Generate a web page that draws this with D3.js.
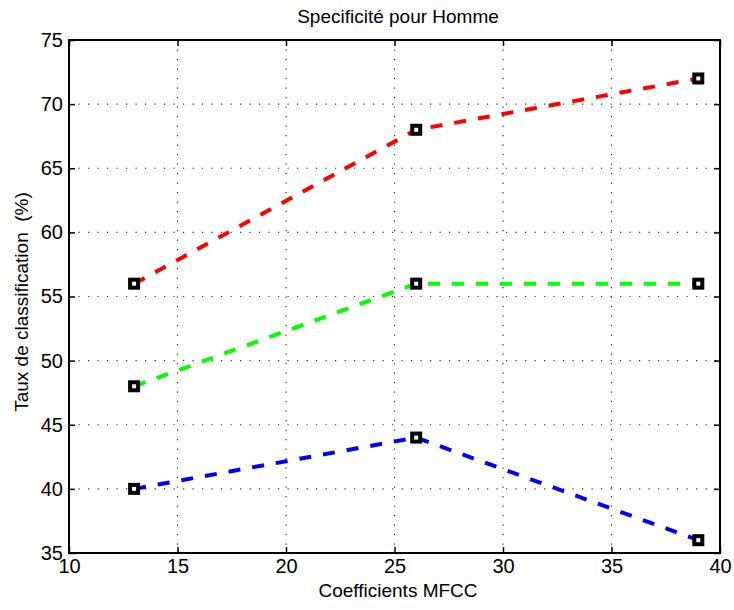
<!DOCTYPE html>
<html>
<head>
<meta charset="utf-8">
<script src="https://cdn.jsdelivr.net/npm/d3@7"></script>
<style>
  body { margin: 0; background: #fff; }
  svg { display: block; font-family: "Liberation Sans", Arial, Helvetica, sans-serif; }
  .axis path, .axis line { stroke: #000; }
  .axis text { font-size: 20px; fill: #000; }
</style>
</head>
<body>
<svg id="chart"></svg>
<script>
    'use strict';

    var coefficients = [13, 26, 39];
    var redSeries = [56, 68, 72];
    var greenSeries = [48, 56, 56];
    var blueSeries = [40, 44, 36];
    var xTicks = [10, 15, 20, 25, 30, 35, 40];
    var yTicks = [35, 40, 45, 50, 55, 60, 65, 70, 75];

    var width = 734, height = 610;
    var plotLeft = 69, plotRight = 720, plotTop = 40, plotBottom = 553;

    var svg = d3.select('#chart')
        .attr('width', width)
        .attr('height', height);

    var scaleX = d3.scaleLinear().domain([10, 40]).range([plotLeft, plotRight]);
    var scaleY = d3.scaleLinear().domain([35, 75]).range([plotBottom, plotTop]);

    // dotted grid
    var grid = svg.append('g').attr('class', 'grid');
    grid.selectAll('line.vx')
        .data(xTicks)
        .enter().append('line')
        .attr('class', 'vx')
        .attr('x1', function (d) { return scaleX(d); })
        .attr('x2', function (d) { return scaleX(d); })
        .attr('y1', plotTop)
        .attr('y2', plotBottom)
        .attr('stroke', '#333')
        .attr('stroke-width', 1.2)
        .attr('stroke-dasharray', '1.2,8.3');
    grid.selectAll('line.hy')
        .data(yTicks)
        .enter().append('line')
        .attr('class', 'hy')
        .attr('x1', plotLeft)
        .attr('x2', plotRight)
        .attr('y1', function (d) { return scaleY(d); })
        .attr('y2', function (d) { return scaleY(d); })
        .attr('stroke', '#333')
        .attr('stroke-width', 1.2)
        .attr('stroke-dasharray', '1.2,8.3');

    // axes, ticks inside like matlab
    svg.append('g')
        .attr('class', 'x axis')
        .attr('transform', 'translate(0,' + plotBottom + ')')
        .call(d3.axisBottom(scaleX).tickValues(xTicks).tickSizeInner(-6).tickSizeOuter(0).tickPadding(6));
    svg.append('g')
        .attr('class', 'x axis top')
        .attr('transform', 'translate(0,' + plotTop + ')')
        .call(d3.axisTop(scaleX).tickValues(xTicks).tickSizeInner(-6).tickSizeOuter(0).tickFormat(''));
    svg.append('g')
        .attr('class', 'y axis')
        .attr('transform', 'translate(' + plotLeft + ',0)')
        .call(d3.axisLeft(scaleY).tickValues(yTicks).tickSizeInner(-6).tickSizeOuter(0).tickPadding(6));
    svg.append('g')
        .attr('class', 'y axis right')
        .attr('transform', 'translate(' + plotRight + ',0)')
        .call(d3.axisRight(scaleY).tickValues(yTicks).tickSizeInner(-6).tickSizeOuter(0).tickFormat(''));

    svg.selectAll('.axis .domain').remove();
    svg.selectAll('.axis line').attr('stroke-width', 1.5);

    svg.append('rect')
        .attr('x', plotLeft)
        .attr('y', plotTop)
        .attr('width', plotRight - plotLeft)
        .attr('height', plotBottom - plotTop)
        .attr('fill', 'none')
        .attr('stroke', '#000')
        .attr('stroke-width', 2);

    var line = d3.line()
        .x(function (d, i) { return scaleX(coefficients[i]); })
        .y(function (d) { return scaleY(d); });

    function drawSeries(values, color) {
        var group = svg.append('g');
        group.append('path')
            .datum(values)
            .attr('d', line)
            .attr('fill', 'none')
            .attr('stroke', color)
            .attr('stroke-width', 4)
            .attr('stroke-dasharray', '12,12');
        group.selectAll('rect')
            .data(values)
            .enter().append('rect')
            .attr('x', function (d, i) { return scaleX(coefficients[i]) - 4; })
            .attr('y', function (d) { return scaleY(d) - 4; })
            .attr('width', 8)
            .attr('height', 8)
            .attr('fill', '#fff')
            .attr('stroke', '#000')
            .attr('stroke-width', 4);
    }

    drawSeries(redSeries, '#ff0000');
    drawSeries(greenSeries, '#00ff00');
    drawSeries(blueSeries, '#0000ff');

    svg.append('text')
        .attr('x', 398)
        .attr('y', 23)
        .attr('text-anchor', 'middle')
        .attr('font-size', 19)
        .text('Specificité pour Homme');

    svg.append('text')
        .attr('x', 398)
        .attr('y', 597)
        .attr('text-anchor', 'middle')
        .attr('font-size', 19)
        .text('Coefficients MFCC');

    svg.append('text')
        .attr('text-anchor', 'middle')
        .attr('font-size', 19)
        .attr('transform', 'translate(28,302)rotate(-90)')
        .text('Taux de classification \u00a0(%)');
</script>
</body>
</html>
